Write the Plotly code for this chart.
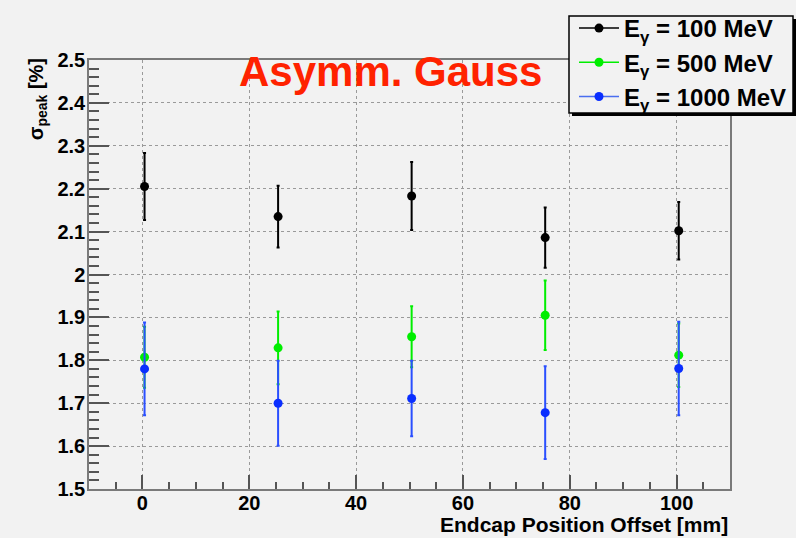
import plotly.graph_objects as go

# Endcap position offsets [mm]
offset_mm = [0.4, 25.4, 50.4, 75.4, 100.4]

# Peak width sigma [%] and its uncertainty for each photon energy
sigma_100 = [2.205, 2.135, 2.183, 2.086, 2.102]
err_100 = [0.078, 0.072, 0.079, 0.070, 0.067]

sigma_500 = [1.807, 1.829, 1.855, 1.905, 1.812]
err_500 = [0.071, 0.085, 0.071, 0.081, 0.074]

sigma_1000 = [1.780, 1.700, 1.711, 1.678, 1.781]
err_1000 = [0.108, 0.099, 0.088, 0.108, 0.109]

series = [
    ("E<sub>γ</sub> = 100 MeV", sigma_100, err_100, "#000000", "#000000", "#000000"),
    ("E<sub>γ</sub> = 500 MeV", sigma_500, err_500, "#00ee00", "#00ee00", "#00ee00"),
    ("E<sub>γ</sub> = 1000 MeV", sigma_1000, err_1000, "#0a2eff", "#2a4fff", "#4a6ef0"),
]

FONT = "Liberation Sans"
BG = "#f2f2f2"

# plot-area geometry in pixels (used to place the legend frame)
W, H = 796, 538
L, R, T, B = 89, 66, 60, 49
PW, PH = W - L - R, H - T - B


def px_x(x):
    return (x - L) / PW


def px_y(y):
    return (H - B - y) / PH


fig = go.Figure()

# data points with error bars
for name, ys, es, mcol, ecol, lcol in series:
    fig.add_trace(go.Scatter(
        x=offset_mm, y=ys, name=name, mode="markers",
        marker=dict(color=mcol, size=9),
        error_y=dict(type="data", array=es, visible=True, color=ecol,
                     thickness=2, width=1.5),
        showlegend=False,
    ))

# legend entries (line + marker symbol)
for name, ys, es, mcol, ecol, lcol in series:
    fig.add_trace(go.Scatter(
        x=[None], y=[None], name=name, mode="lines+markers",
        line=dict(color=lcol, width=1.5), marker=dict(color=mcol, size=9),
    ))

axis_common = dict(
    showline=True, mirror=True, linecolor="#7a7a7a", linewidth=1.5,
    ticks="inside", tickcolor="#555555", tickwidth=1.5,
    showgrid=True, gridcolor="#9a9a9a", griddash="dot", gridwidth=1,
    zeroline=False,
    tickfont=dict(family=FONT, size=20, color="#000000", weight="bold"),
)

fig.update_xaxes(
    range=[-10, 110], dtick=20, tick0=0, ticklen=14, ticklabelstandoff=-5,
    minor=dict(dtick=5, ticklen=7, ticks="inside", tickcolor="#555555", showgrid=False),
    **axis_common,
)
fig.update_yaxes(
    range=[1.5, 2.5], dtick=0.1, tick0=1.5, ticklen=20, ticklabelstandoff=-2,
    tickformat="~g",
    minor=dict(dtick=0.02, ticklen=10, ticks="inside", tickcolor="#555555", showgrid=False),
    **axis_common,
)

fig.update_layout(
    width=W, height=H,
    margin=dict(l=L, r=R, t=T, b=B, autoexpand=False),
    paper_bgcolor=BG, plot_bgcolor=BG,
    showlegend=True,
    legend=dict(
        x=px_x(574), y=px_y(6), xanchor="left", yanchor="top",
        bgcolor="rgba(0,0,0,0)", borderwidth=0,
        font=dict(family=FONT, size=24, color="#000000", weight="bold"),
        tracegroupgap=0, itemwidth=40,
    ),
    annotations=[
        dict(text="Asymm. Gauss", xref="paper", yref="paper", x=0.4696, y=0.974,
             xanchor="center", yanchor="middle", showarrow=False,
             font=dict(family=FONT, size=42, color="#ff2200", weight="bold")),
        dict(text="σ<sub>peak</sub> [%]", xref="paper", yref="paper",
             x=-0.08, y=1.008, xanchor="center", yanchor="top", textangle=-90,
             showarrow=False,
             font=dict(family=FONT, size=20, color="#000000", weight="bold")),
        dict(text="Endcap Position Offset [mm]", xref="paper", yref="paper",
             x=1.0, y=px_y(538), xanchor="right", yanchor="bottom", showarrow=False,
             font=dict(family=FONT, size=21, color="#000000", weight="bold")),
    ],
    shapes=[
        # legend drop shadow
        dict(type="rect", xref="paper", yref="paper",
             x0=px_x(572), x1=px_x(796), y0=px_y(116), y1=px_y(19),
             fillcolor="#000000", line=dict(width=0), layer="above"),
        # legend frame
        dict(type="rect", xref="paper", yref="paper",
             x0=px_x(569), x1=px_x(793), y0=px_y(113), y1=px_y(16),
             fillcolor=BG, line=dict(color="#000000", width=1.5), layer="above"),
    ],
)

fig.write_html("out.html")
